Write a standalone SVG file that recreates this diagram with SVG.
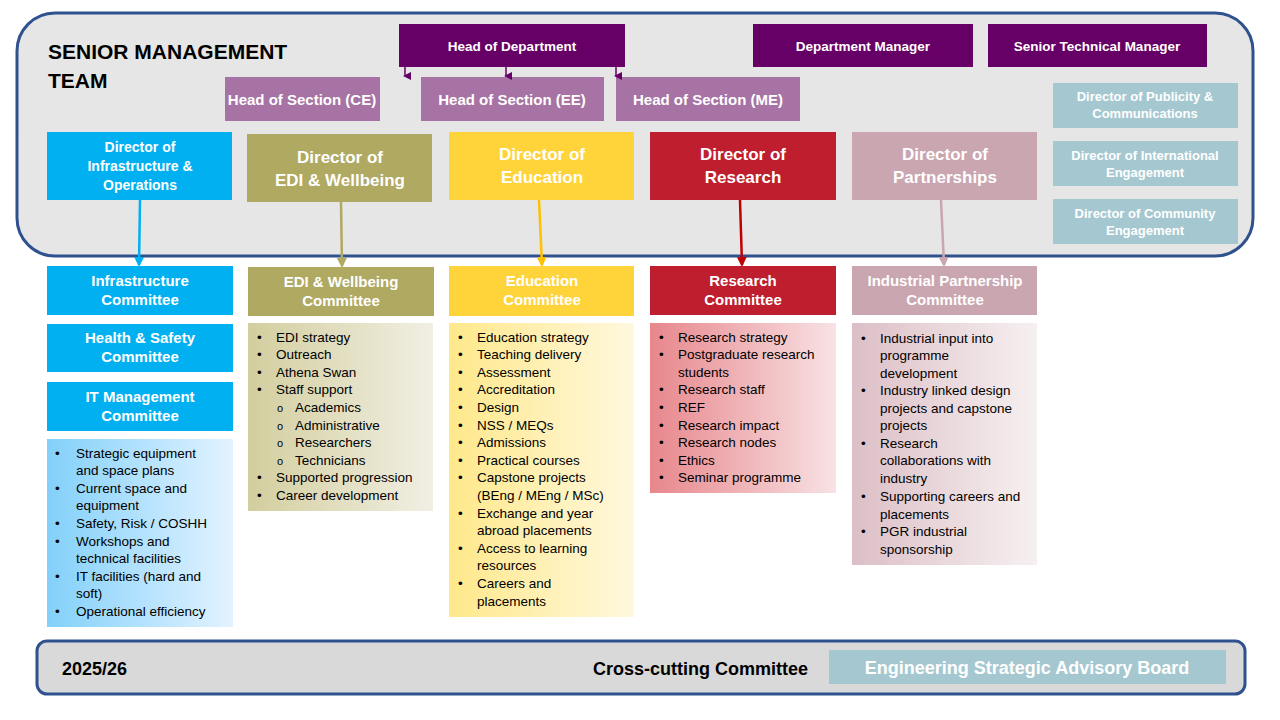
<svg xmlns="http://www.w3.org/2000/svg" width="1280" height="720" viewBox="0 0 1280 720">
<style>
text{font-family:"Liberation Sans",Arial,sans-serif}
.t{fill:#fff;font-weight:bold;text-anchor:middle}
.b{fill:#000;font-size:13.5px}
.h{font-size:15px}
.d{font-size:17px}
.s{font-size:13.5px}
</style>
<defs>
<marker id="mp" markerWidth="8" markerHeight="8" refX="4" refY="6" orient="auto-start-reverse" markerUnits="userSpaceOnUse" viewBox="0 0 8 8"><path d="M0,0 L8,0 L4,8z" fill="#660066"/></marker>
<marker id="m1" markerWidth="10" markerHeight="10" refX="5" refY="8" viewBox="0 0 10 10" markerUnits="userSpaceOnUse" orient="auto"><path d="M0,0 L10,5 L0,10z" fill="#00B0F0" transform="rotate(90 5 5)"/></marker>
<marker id="m2" markerWidth="10" markerHeight="10" refX="8" refY="5" viewBox="0 0 10 10" markerUnits="userSpaceOnUse" orient="auto"><path d="M0,0 L10,5 L0,10z" fill="#B0A962"/></marker>
<marker id="m3" markerWidth="10" markerHeight="10" refX="8" refY="5" viewBox="0 0 10 10" markerUnits="userSpaceOnUse" orient="auto"><path d="M0,0 L10,5 L0,10z" fill="#FFC000"/></marker>
<marker id="m4" markerWidth="10" markerHeight="10" refX="8" refY="5" viewBox="0 0 10 10" markerUnits="userSpaceOnUse" orient="auto"><path d="M0,0 L10,5 L0,10z" fill="#C00000"/></marker>
<marker id="m5" markerWidth="10" markerHeight="10" refX="8" refY="5" viewBox="0 0 10 10" markerUnits="userSpaceOnUse" orient="auto"><path d="M0,0 L10,5 L0,10z" fill="#C9A6B0"/></marker>
<marker id="m0" markerWidth="10" markerHeight="10" refX="8" refY="5" viewBox="0 0 10 10" markerUnits="userSpaceOnUse" orient="auto"><path d="M0,0 L10,5 L0,10z" fill="#00B0F0"/></marker>
<linearGradient id="g1" x1="0" x2="1"><stop offset="0" stop-color="#82D0FA"/><stop offset="1" stop-color="#E3F3FF"/></linearGradient>
<linearGradient id="g2" x1="0" x2="1"><stop offset="0" stop-color="#D3CE9E"/><stop offset="1" stop-color="#F1EFE4"/></linearGradient>
<linearGradient id="g3" x1="0" x2="1"><stop offset="0" stop-color="#FFE88A"/><stop offset="1" stop-color="#FFF8DE"/></linearGradient>
<linearGradient id="g4" x1="0" x2="1"><stop offset="0" stop-color="#E7878C"/><stop offset="1" stop-color="#F8E2E4"/></linearGradient>
<linearGradient id="g5" x1="0" x2="1"><stop offset="0" stop-color="#DCBFC6"/><stop offset="1" stop-color="#F6F0F1"/></linearGradient>
</defs>
<rect width="1280" height="720" fill="#fff"/>
<g id="smt">
<rect x="17" y="13" width="1236" height="243" rx="38" fill="#E6E6E6" stroke="#2F528F" stroke-width="3"/>
<text x="48" y="59" font-size="21" font-weight="bold">SENIOR MANAGEMENT</text>
<text x="48" y="88" font-size="21" font-weight="bold">TEAM</text>
</g>
<g id="hod"><rect x="399" y="24" width="226" height="43" fill="#660066"/><text class="t s" x="512" y="51">Head of Department</text></g>
<g id="dm"><rect x="753" y="24" width="220" height="43" fill="#660066"/><text class="t s" x="863" y="51">Department Manager</text></g>
<g id="stm"><rect x="988" y="24" width="219" height="43" fill="#660066"/><text class="t s" x="1097" y="51">Senior Technical Manager</text></g>
<g id="hce"><rect x="225" y="77" width="155" height="44" fill="#A673A4"/><text class="t" font-size="15" x="302" y="105">Head of Section (CE)</text></g>
<g id="hee"><rect x="421" y="77" width="183" height="44" fill="#A673A4"/><text class="t" font-size="15" x="512" y="105">Head of Section (EE)</text></g>
<g id="hme"><rect x="616" y="77" width="184" height="44" fill="#A673A4"/><text class="t" font-size="15" x="708" y="105">Head of Section (ME)</text></g>
<g id="dinf"><rect x="47" y="132" width="185" height="68" fill="#00B0F0"/><text class="t" font-size="14" x="140" y="152">Director of</text><text class="t" font-size="14" x="140" y="171">Infrastructure &amp;</text><text class="t" font-size="14" x="140" y="190">Operations</text></g>
<g id="dedi"><rect x="247" y="134" width="185" height="68" fill="#B0A962"/><text class="t d" x="340" y="163">Director of</text><text class="t d" x="340" y="186">EDI &amp; Wellbeing</text></g>
<g id="dedu"><rect x="449" y="132" width="185" height="68" fill="#FFD43B"/><text class="t d" x="542" y="160">Director of</text><text class="t d" x="542" y="183">Education</text></g>
<g id="dres"><rect x="650" y="132" width="186" height="68" fill="#BE1E2D"/><text class="t d" x="743" y="160">Director of</text><text class="t d" x="743" y="183">Research</text></g>
<g id="dpar"><rect x="852" y="132" width="185" height="68" fill="#C9A6B0"/><text class="t d" x="945" y="160">Director of</text><text class="t d" x="945" y="183">Partnerships</text></g>
<g id="dpub"><rect x="1053" y="83" width="185" height="45" fill="#A5C8D0"/><text class="t" font-size="13" x="1145" y="101">Director of Publicity &amp;</text><text class="t" font-size="13" x="1145" y="118">Communications</text></g>
<g id="dint"><rect x="1053" y="141" width="185" height="45" fill="#A5C8D0"/><text class="t" font-size="13" x="1145" y="160">Director of International</text><text class="t" font-size="13" x="1145" y="177">Engagement</text></g>
<g id="dcom"><rect x="1053" y="199" width="185" height="45" fill="#A5C8D0"/><text class="t" font-size="13" x="1145" y="218">Director of Community</text><text class="t" font-size="13" x="1145" y="235">Engagement</text></g>
<g id="connectors" fill="none" stroke-width="2.5">
<g stroke="#660066" stroke-width="1.5"><path d="M405,67 V76" marker-end="url(#mp)"/><path d="M506,67 V76" marker-end="url(#mp)"/><path d="M616,67 V76" marker-end="url(#mp)"/></g>
<path d="M140,200 L139,265" stroke="#00B0F0" marker-end="url(#m0)"/>
<path d="M341,202 L342,266" stroke="#B0A962" marker-end="url(#m2)"/>
<path d="M539,200 L542,265" stroke="#FFC000" marker-end="url(#m3)"/>
<path d="M740,200 L742,265" stroke="#C00000" marker-end="url(#m4)"/>
<path d="M941,200 L944,265" stroke="#C9A6B0" marker-end="url(#m5)"/>
</g>
<g id="cinf"><rect x="47" y="266" width="186" height="49" fill="#00B0F0"/><text class="t h" x="140" y="286">Infrastructure</text><text class="t h" x="140" y="305">Committee</text></g>
<g id="chs"><rect x="47" y="324" width="186" height="48" fill="#00B0F0"/><text class="t h" x="140" y="343">Health &amp; Safety</text><text class="t h" x="140" y="362">Committee</text></g>
<g id="cit"><rect x="47" y="382" width="186" height="49" fill="#00B0F0"/><text class="t h" x="140" y="402">IT Management</text><text class="t h" x="140" y="421">Committee</text></g>
<g id="linf"><rect x="47" y="439" width="186" height="188" fill="url(#g1)"/>
<g class="b"><text x="55" y="458">•</text><text x="76" y="458">Strategic equipment</text><text x="76" y="475">and space plans</text>
<text x="55" y="493">•</text><text x="76" y="493">Current space and</text><text x="76" y="510">equipment</text>
<text x="55" y="528">•</text><text x="76" y="528">Safety, Risk / COSHH</text>
<text x="55" y="546">•</text><text x="76" y="546">Workshops and</text><text x="76" y="563">technical facilities</text>
<text x="55" y="581">•</text><text x="76" y="581">IT facilities (hard and</text><text x="76" y="598">soft)</text>
<text x="55" y="616">•</text><text x="76" y="616">Operational efficiency</text></g></g>
<g id="cedi"><rect x="248" y="267" width="186" height="49" fill="#B0A962"/><text class="t h" x="341" y="287">EDI &amp; Wellbeing</text><text class="t h" x="341" y="306">Committee</text></g>
<g id="ledi"><rect x="248" y="323" width="185" height="188" fill="url(#g2)"/>
<g class="b"><text x="257" y="342">•</text><text x="276" y="342">EDI strategy</text>
<text x="257" y="359">•</text><text x="276" y="359">Outreach</text>
<text x="257" y="377">•</text><text x="276" y="377">Athena Swan</text>
<text x="257" y="394">•</text><text x="276" y="394">Staff support</text>
<text x="277" y="412" font-size="11">o</text><text x="295" y="412">Academics</text>
<text x="277" y="430" font-size="11">o</text><text x="295" y="430">Administrative</text>
<text x="277" y="447" font-size="11">o</text><text x="295" y="447">Researchers</text>
<text x="277" y="465" font-size="11">o</text><text x="295" y="465">Technicians</text>
<text x="257" y="482">•</text><text x="276" y="482">Supported progression</text>
<text x="257" y="500">•</text><text x="276" y="500">Career development</text></g></g>
<g id="cedu"><rect x="449" y="266" width="185" height="50" fill="#FFD43B"/><text class="t h" x="542" y="286">Education</text><text class="t h" x="542" y="305">Committee</text></g>
<g id="ledu"><rect x="449" y="323" width="185" height="294" fill="url(#g3)"/>
<g class="b"><text x="458" y="342">•</text><text x="477" y="342">Education strategy</text>
<text x="458" y="359">•</text><text x="477" y="359">Teaching delivery</text>
<text x="458" y="377">•</text><text x="477" y="377">Assessment</text>
<text x="458" y="394">•</text><text x="477" y="394">Accreditation</text>
<text x="458" y="412">•</text><text x="477" y="412">Design</text>
<text x="458" y="430">•</text><text x="477" y="430">NSS / MEQs</text>
<text x="458" y="447">•</text><text x="477" y="447">Admissions</text>
<text x="458" y="465">•</text><text x="477" y="465">Practical courses</text>
<text x="458" y="482">•</text><text x="477" y="482">Capstone projects</text><text x="477" y="500">(BEng / MEng / MSc)</text>
<text x="458" y="518">•</text><text x="477" y="518">Exchange and year</text><text x="477" y="535">abroad placements</text>
<text x="458" y="553">•</text><text x="477" y="553">Access to learning</text><text x="477" y="570">resources</text>
<text x="458" y="588">•</text><text x="477" y="588">Careers and</text><text x="477" y="606">placements</text></g></g>
<g id="cres"><rect x="650" y="266" width="186" height="49" fill="#BE1E2D"/><text class="t h" x="743" y="286">Research</text><text class="t h" x="743" y="305">Committee</text></g>
<g id="lres"><rect x="650" y="323" width="186" height="170" fill="url(#g4)"/>
<g class="b"><text x="659" y="342">•</text><text x="678" y="342">Research strategy</text>
<text x="659" y="359">•</text><text x="678" y="359">Postgraduate research</text><text x="678" y="377">students</text>
<text x="659" y="394">•</text><text x="678" y="394">Research staff</text>
<text x="659" y="412">•</text><text x="678" y="412">REF</text>
<text x="659" y="430">•</text><text x="678" y="430">Research impact</text>
<text x="659" y="447">•</text><text x="678" y="447">Research nodes</text>
<text x="659" y="465">•</text><text x="678" y="465">Ethics</text>
<text x="659" y="482">•</text><text x="678" y="482">Seminar programme</text></g></g>
<g id="cpar"><rect x="852" y="266" width="185" height="49" fill="#C9A6B0"/><text class="t h" x="945" y="286">Industrial Partnership</text><text class="t h" x="945" y="305">Committee</text></g>
<g id="lpar"><rect x="852" y="323" width="185" height="242" fill="url(#g5)"/>
<g class="b"><text x="861" y="343">•</text><text x="880" y="343">Industrial input into</text><text x="880" y="360">programme</text><text x="880" y="378">development</text>
<text x="861" y="395">•</text><text x="880" y="395">Industry linked design</text><text x="880" y="413">projects and capstone</text><text x="880" y="430">projects</text>
<text x="861" y="448">•</text><text x="880" y="448">Research</text><text x="880" y="465">collaborations with</text><text x="880" y="483">industry</text>
<text x="861" y="501">•</text><text x="880" y="501">Supporting careers and</text><text x="880" y="519">placements</text>
<text x="861" y="536">•</text><text x="880" y="536">PGR industrial</text><text x="880" y="554">sponsorship</text></g></g>
<g id="bottom">
<rect x="37" y="641" width="1208" height="53" rx="10" fill="#D9D9D9" stroke="#2F528F" stroke-width="3"/>
<text x="62" y="675" font-size="18" font-weight="bold">2025/26</text>
<text x="808" y="675" font-size="18" font-weight="bold" text-anchor="end">Cross-cutting Committee</text>
</g>
<g id="esab"><rect x="829" y="650" width="397" height="34" fill="#A5C8D0"/><text class="t" font-size="18" x="1027" y="674">Engineering Strategic Advisory Board</text></g>
</svg>
